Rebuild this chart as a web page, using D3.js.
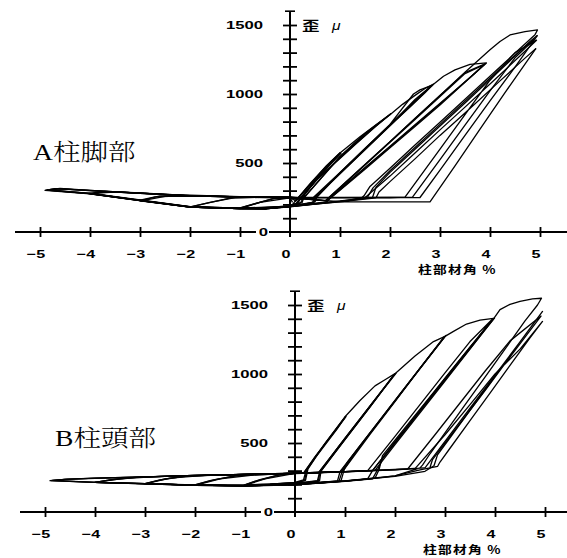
<!DOCTYPE html>
<html>
<head>
<meta charset="utf-8">
<script src="https://cdn.jsdelivr.net/npm/d3@7"></script>
<style>
body { margin: 0; background: #fff; }
</style>
</head>
<body>
<svg id="chart" width="567" height="558"></svg>
<script>
// ticks and labels
var xTicks = [-5, -4, -3, -2, -1, 0, 1, 2, 3, 4, 5];
var yTicks = [100, 200, 300, 400, 500, 600, 700, 800, 900, 1000, 1100, 1200, 1300, 1400, 1500];
var yLabels = [500, 1000, 1500];
var xTitle = "柱部材角 %";
var yTitle = "歪";
var yUnit = "μ";
var titleA = "A柱脚部";
var titleB = "B柱頭部";

// A 柱脚部 : [drift %, strain μ] traced cycle by cycle
var a1a = [[0.05,200],[0.4,350],[0.73,480],[1.0,575],[0.75,478],[0.45,352],[0.18,235],[0.12,208],[0,190],[-0.5,176],[-1,174],[-0.7,205],[-0.3,245],[0,250],[0.05,215]];
var a1b = [[0.1,222],[0.42,352],[0.75,482],[1.02,570],[0.78,480],[0.48,355],[0.2,240],[0.15,210],[0,188],[-0.5,173],[-1.02,172],[-0.75,200],[-0.35,240],[0.1,249],[0.1,222]];
var a1c = [[0.1,220],[0.44,358],[0.77,486],[1.0,568],[0.8,488],[0.5,365],[0.22,245],[0.16,212],[0,186],[-0.5,172],[-0.98,171],[-0.6,215],[0,248],[0.12,225]];
var a2a = [[0.12,225],[0.42,352],[0.73,478],[1.0,572],[1.4,690],[1.7,772],[2.0,852],[1.7,760],[1.3,632],[0.9,500],[0.5,365],[0.28,270],[0.22,215],[0,186],[-0.5,170],[-1,170],[-2,181],[-1.6,215],[-1.1,250],[0,251],[0.25,235]];
var a2b = [[0.25,235],[0.6,380],[1.0,545],[1.5,712],[2.02,858],[1.7,762],[1.3,635],[0.9,503],[0.5,368],[0.3,275],[0.24,212],[0,185],[-0.5,169],[-1,169],[-2.02,180],[-1.7,205],[-1.2,245],[-0.5,252],[0.25,238]];
var a3a = [[0.25,238],[0.6,382],[1.0,548],[1.5,714],[2.0,850],[2.25,925],[2.5,990],[2.7,1040],[2.87,1072],[2.7,1008],[2.4,905],[2.0,772],[1.5,598],[1.0,424],[0.5,250],[0.45,213],[0,184],[-0.5,168],[-1,170],[-2,180],[-3,226],[-2.6,262],[-2,263],[-1,254],[0,250],[0.45,245]];
var a3b = [[0.45,245],[1.0,432],[1.5,606],[2.0,780],[2.47,1000],[2.6,1030],[2.85,1065],[2.6,985],[2.0,778],[1.5,603],[1.0,428],[0.52,258],[0.48,215],[0,186],[-0.5,170],[-1,171],[-2,182],[-3.02,229],[-2.7,255],[-2,264],[-1,255],[0,251],[0.5,238]];
var a3c = [[0.5,238],[1.0,425],[1.5,600],[2.0,772],[2.5,960],[2.83,1060],[2.55,962],[2.0,770],[1.5,596],[1.0,421],[0.55,262],[0.5,218],[0,188],[-0.5,172],[-1,172],[-2,183],[-2.95,228],[-2.5,258],[-1.5,258],[0,252],[0.5,240]];
var a4a = [[0.5,240],[1.0,430],[1.5,605],[2.0,778],[2.5,950],[2.87,1070],[3.07,1129],[3.3,1175],[3.6,1215],[3.93,1225],[3.8,1185],[3.4,1052],[3.0,920],[2.5,765],[2.0,610],[1.5,455],[1.0,302],[0.75,228],[0.7,212],[0,185],[-0.5,168],[-1,170],[-2,181],[-3,228],[-4,277],[-3.6,292],[-3,281],[-2,262],[-1,254],[0,250],[0.7,225]];
var a4b = [[0.7,225],[1.5,490],[2.0,655],[2.5,822],[3.0,990],[3.5,1155],[3.9,1218],[3.7,1150],[3.2,995],[2.5,778],[2.0,622],[1.5,468],[1.0,312],[0.78,240],[0.72,214],[0,186],[-0.5,170],[-1,171],[-2,182],[-3,230],[-4.02,279],[-3.7,295],[-3,283],[-2,263],[-1,255],[0,251],[0.72,226]];
var a4c = [[0.72,226],[1.5,485],[2.0,650],[2.5,815],[3.0,982],[3.5,1148],[3.88,1212],[3.6,1120],[3.0,928],[2.5,772],[2.0,616],[1.5,462],[1.0,306],[0.8,245],[0.74,216],[0,188],[-1,173],[-2,184],[-3,232],[-3.98,280],[-3.5,290],[-2.5,272],[-1,256],[0,252],[0.72,228]];
var a5a = [[0.72,228],[1.5,488],[2.0,655],[2.5,822],[3.0,990],[3.5,1158],[4.0,1320],[4.2,1381],[4.4,1428],[4.7,1452],[4.95,1464],[4.9,1430],[4.6,1330],[4.2,1195],[3.5,962],[3.0,795],[2.5,630],[2.0,462],[1.6,330],[1.48,262],[1.4,240],[1.0,226],[0.5,206],[0,186],[-0.5,170],[-1,172],[-2,182],[-3,229],[-4,279],[-4.85,306],[-4.6,316],[-4,302],[-3,282],[-2,263],[-1,254],[0,250],[1,250],[2,250],[2.45,252],[3.0,525],[3.5,775],[4.0,1022],[4.5,1262],[4.9,1400]];
var a5b = [[4.9,1400],[4.75,1360],[4.3,1215],[3.5,948],[3.0,780],[2.5,612],[2.0,444],[1.66,320],[1.55,252],[1.0,222],[0.5,204],[0,184],[-0.5,168],[-1,170],[-2,180],[-3,227],[-4,277],[-4.9,302],[-4.7,314],[-4,300],[-3,280],[-2,262],[-1,253],[0,249],[1,249],[2,249],[2.6,250],[3.0,448],[3.5,700],[4.0,950],[4.5,1195],[4.95,1425]];
var a5c = [[4.95,1425],[4.8,1380],[4.4,1240],[3.5,935],[3.0,768],[2.5,600],[2.0,432],[1.72,325],[1.65,250],[1.0,220],[0.5,203],[0,183],[-0.5,167],[-1,169],[-2,180],[-3,228],[-4,279],[-4.88,304],[-4.65,314],[-4,300],[-3,280],[-2,262],[-1,253],[0,248],[1,220],[2,218],[2.8,218],[3.3,480],[3.8,745],[4.3,1010],[4.92,1330]];
var a5d = [[4.92,1330],[4.7,1260],[4.2,1095],[3.5,862],[3.0,700],[2.5,530],[2.0,365],[1.78,290],[1.72,248],[1.0,218],[0.5,202],[0,184],[-1,170],[-2,181],[-3,229],[-4,279],[-4.85,303],[-4.6,313],[-4,301],[-3,281],[-2,262],[-1,253],[0,249],[1,249],[2,250],[2.3,252],[3.0,600],[3.5,850],[4.0,1100],[4.5,1300],[4.93,1390],[4.7,1310],[4.2,1140],[3.5,905],[3.0,740],[2.5,572],[2.0,405],[1.6,280],[1.5,248]];

// B 柱頭部
var b1a = [[0.17,280],[0.4,400],[0.6,495],[0.8,590],[1.0,688],[0.8,592],[0.6,496],[0.38,388],[0.22,300],[0.17,232],[0,214],[-0.5,202],[-1,197],[-0.7,235],[-0.3,270],[0,280],[0.17,282]];
var b1b = [[0.17,282],[0.42,408],[0.62,502],[0.82,598],[1.02,692],[0.82,596],[0.6,492],[0.4,395],[0.24,308],[0.19,228],[0,212],[-0.5,200],[-1.02,195],[-0.75,228],[-0.35,266],[0,281],[0.2,284]];
var b1c = [[0.2,284],[0.44,412],[0.64,506],[1.0,685],[0.84,600],[0.62,495],[0.42,400],[0.26,312],[0.21,230],[0,210],[-0.98,196],[-0.6,240],[0,280],[0.2,286]];
var b2a = [[0.2,286],[0.6,498],[1.0,690],[1.3,808],[1.6,914],[1.8,958],[2.0,1003],[1.7,862],[1.4,722],[1.0,535],[0.7,392],[0.5,298],[0.45,228],[0,208],[-0.5,198],[-1,195],[-2,196],[-1.6,235],[-1.1,268],[-0.5,276],[0,280],[0.47,286]];
var b2b = [[0.47,286],[0.8,440],[1.2,628],[1.6,815],[2.02,1005],[1.7,858],[1.3,670],[0.9,482],[0.55,318],[0.5,300],[0.47,226],[0,206],[-1,193],[-2.02,195],[-1.7,228],[-1.2,262],[0,281],[0.5,287]];
var b2c = [[0.5,287],[0.85,455],[1.25,645],[1.65,835],[1.98,995],[1.65,838],[1.25,650],[0.85,462],[0.56,322],[0.52,298],[0.49,224],[0,204],[-1,192],[-1.98,194],[-1.5,240],[-0.8,270],[0,280],[0.5,288]];
var b3a = [[0.5,288],[1.0,525],[1.5,760],[2.0,1002],[2.4,1130],[2.77,1235],[3.0,1273],[2.7,1135],[2.3,948],[2.0,805],[1.5,572],[1.2,430],[0.95,312],[0.9,292],[0.85,226],[0.5,215],[0,204],[-1,192],[-2,196],[-3,205],[-2.6,240],[-2.1,262],[-1,272],[0,280],[0.5,286],[0.9,292]];
var b3b = [[0.9,292],[1.3,480],[1.7,668],[2.1,855],[2.5,1040],[2.8,1180],[3.02,1280],[2.7,1132],[2.3,945],[1.9,758],[1.5,570],[1.1,383],[0.95,300],[0.88,224],[0.5,212],[0,202],[-1,190],[-2,195],[-3.02,204],[-2.7,232],[-2.2,260],[-1,273],[0,281],[0.95,294]];
var b3c = [[0.95,294],[1.35,502],[1.75,690],[2.15,878],[2.55,1066],[2.98,1268],[2.65,1112],[2.25,925],[1.85,738],[1.45,550],[1.05,362],[0.98,302],[0.92,226],[0.5,214],[0,203],[-1,191],[-2,195],[-2.98,205],[-2.5,245],[-1.8,266],[0,280],[0.95,293]];
var b4a = [[0.95,293],[1.5,562],[2.0,800],[2.5,1040],[3.0,1273],[3.17,1309],[3.43,1362],[3.7,1390],[3.97,1403],[3.7,1280],[3.3,1098],[2.9,915],[2.5,733],[2.1,550],[1.7,368],[1.55,300],[1.45,238],[1.0,224],[0.5,212],[0,200],[-1,190],[-2,195],[-3,205],[-4,215],[-3.6,238],[-3.1,253],[-2,265],[-1,272],[0,280],[1,291],[1.55,300]];
var b4b = [[1.55,300],[2.0,508],[2.5,738],[3.0,968],[3.5,1195],[3.99,1406],[3.7,1275],[3.3,1093],[2.9,910],[2.5,728],[2.1,545],[1.75,385],[1.65,305],[1.55,240],[1.0,222],[0.5,210],[0,198],[-1,189],[-2,194],[-3,204],[-4,214],[-3.7,232],[-3.2,251],[-2,266],[-1,273],[0,281],[1,292],[1.45,298]];
var b4c = [[1.45,298],[2.0,548],[2.5,778],[3.0,1008],[3.5,1235],[3.95,1398],[3.6,1240],[3.2,1060],[2.8,880],[2.4,700],[2.0,520],[1.75,408],[1.68,306],[1.6,245],[1.0,224],[0,199],[-1,190],[-2,195],[-3,205],[-4,215],[-3.5,240],[-2.8,257],[-2,264],[-1,272],[0,280],[1,292],[1.6,302]];
var b5a = [[1.6,302],[2.0,488],[2.5,718],[3.0,948],[3.5,1180],[3.97,1400],[4.1,1467],[4.3,1505],[4.5,1527],[4.75,1545],[4.93,1549],[4.85,1500],[4.6,1385],[4.2,1180],[3.8,978],[3.4,776],[3.0,574],[2.7,422],[2.55,340],[2.5,320],[2.0,262],[1.5,240],[1.0,226],[0.5,212],[0,198],[-1,190],[-2,195],[-3,205],[-4,215],[-4.88,228],[-4.6,237],[-4,245],[-3,255],[-2,265],[-1,272],[0,280],[1,292],[2,308],[2.6,320]];
var b5b = [[2.6,320],[3.0,512],[3.5,752],[4.0,992],[4.5,1232],[4.95,1453],[4.7,1330],[4.3,1132],[3.9,934],[3.5,736],[3.1,538],[2.85,414],[2.78,335],[2.6,295],[2.0,258],[1.0,224],[0,196],[-1,189],[-2,194],[-3,204],[-4,214],[-4.9,227],[-4.6,236],[-4,244],[-3,254],[-2,264],[-1,271],[0,279],[1,291],[2,306],[2.4,314]];
var b5c = [[2.4,314],[3.0,560],[3.5,778],[4.0,1000],[4.5,1180],[4.95,1381],[4.7,1262],[4.3,1062],[3.9,862],[3.5,662],[3.1,462],[2.9,362],[2.85,330],[2.5,305],[2.0,262],[1.0,226],[0,200],[-1,190],[-2,195],[-3,205],[-4,215],[-4.85,229],[-4.55,238],[-4,245],[-3,255],[-2,265],[-1,272],[0,280],[1,292],[2,307],[2.25,310],[2.8,560],[3.3,790],[3.8,1020],[4.3,1240],[4.92,1420],[4.65,1290],[4.2,1075],[3.8,880],[3.4,690],[3.0,500],[2.75,380],[2.7,322]];

var loopsA = [a1a, a1b, a1c, a2a, a2b, a3a, a3b, a3c, a4a, a4b, a4c, a5a, a5b, a5c, a5d];
var loopsB = [b1a, b1b, b1c, b2a, b2b, b2c, b3a, b3b, b3c, b4a, b4b, b4c, b5a, b5b, b5c];

var svg = d3.select("#chart");
svg.append("rect").attr("width", 567).attr("height", 558).attr("fill", "#fff");

var numFont = "'Liberation Sans', Arial, sans-serif";
var cjkFont = "'Noto Sans CJK JP', sans-serif";

function stretched(g, str, tx, ty, sx) {
	return g.append("text")
		.attr("transform", "translate(" + tx + "," + ty + ") scale(" + sx + ",1)")
		.attr("fill", "#000")
		.text(str);
}

function drawPanel(loops, title, ox, oy, tx, ty) {
	var x = d3.scaleLinear().domain([-5, 5]).range([ox - 250, ox + 250]);
	var y = d3.scaleLinear().domain([0, 1500]).range([oy, oy - 207]);
	var g = svg.append("g");

	// loops
	var line = d3.line().x(function(d) { return x(d[0]); }).y(function(d) { return y(d[1]); });
	g.selectAll("path.loop").data(loops).join("path")
		.attr("class", "loop")
		.attr("d", line)
		.attr("fill", "none")
		.attr("stroke", "#000")
		.attr("stroke-width", 1.3)
		.attr("stroke-linejoin", "round");

	// x axis
	g.append("line")
		.attr("x1", x(-5.5)).attr("x2", x(5.7))
		.attr("y1", y(0)).attr("y2", y(0))
		.attr("stroke", "#000").attr("stroke-width", 1.8);
	var xAxis = d3.axisBottom(x)
		.tickValues(xTicks.filter(function(v) { return v !== 0; }))
		.tickSizeInner(5).tickSizeOuter(0).tickFormat("");
	var gx = g.append("g").attr("transform", "translate(0," + y(0) + ")").call(xAxis);
	gx.select(".domain").remove();
	gx.selectAll(".tick line").attr("y1", -5).attr("y2", 5).attr("stroke", "#000").attr("stroke-width", 1.8);

	xTicks.forEach(function(v) {
		var lab = v < 0 ? "\u2212" + Math.abs(v) : String(v);
		stretched(g, lab, x(v) - 4, y(0) + 25.5, 1.4)
			.attr("text-anchor", "middle")
			.attr("font-family", numFont).attr("font-weight", "bold").attr("font-size", "11.5px");
	});

	// y axis
	g.append("line")
		.attr("x1", x(0)).attr("x2", x(0))
		.attr("y1", y(1600)).attr("y2", y(0) + 5)
		.attr("stroke", "#000").attr("stroke-width", 2);
	var yAxis = d3.axisLeft(y).tickValues(yTicks).tickSizeInner(7).tickSizeOuter(0).tickFormat("");
	var gy = g.append("g").attr("transform", "translate(" + x(0) + ",0)").call(yAxis);
	gy.select(".domain").remove();
	gy.selectAll(".tick line").attr("x1", 7).attr("x2", -7).attr("stroke", "#000").attr("stroke-width", 1.8);
	g.append("line")
		.attr("x1", x(0) - 5).attr("x2", x(0) + 5)
		.attr("y1", y(1600)).attr("y2", y(1600))
		.attr("stroke", "#000").attr("stroke-width", 1.6);

	yLabels.forEach(function(v) {
		stretched(g, String(v), x(0) - 27, y(v) + 4.2, 1.45)
			.attr("text-anchor", "end")
			.attr("font-family", numFont).attr("font-weight", "bold").attr("font-size", "11.5px");
	});
	g.append("rect")
		.attr("x", x(0) - 34).attr("y", y(0) - 5)
		.attr("width", 13).attr("height", 10).attr("fill", "#fff");
	stretched(g, "0", x(0) - 22, y(0) + 4.2, 1.45)
		.attr("text-anchor", "end")
		.attr("font-family", numFont).attr("font-weight", "bold").attr("font-size", "11.5px");

	// axis titles
	stretched(g, yTitle, x(0) + 12, y(1500) + 5, 1.35)
		.attr("font-family", cjkFont).attr("font-weight", "bold").attr("font-size", "13px");
	stretched(g, yUnit, x(0) + 42, y(1500) + 5, 1.2)
		.attr("font-family", numFont).attr("font-style", "italic").attr("font-size", "13px");
	stretched(g, xTitle, x(0) + 128, y(0) + 41.5, 1.25)
		.attr("font-family", cjkFont).attr("font-weight", "bold").attr("font-size", "11px")
		.attr("letter-spacing", "1px");

	// panel title
	stretched(g, title, tx, ty, 1.2)
		.attr("font-family", "'Liberation Serif', 'Noto Serif CJK JP', 'Noto Sans CJK JP', serif")
		.attr("font-weight", 300)
		.attr("font-size", "23px");
}

drawPanel(loopsA, titleA, 290, 232, 33, 160);
drawPanel(loopsB, titleB, 295, 512, 55, 446);
</script>
</body>
</html>
